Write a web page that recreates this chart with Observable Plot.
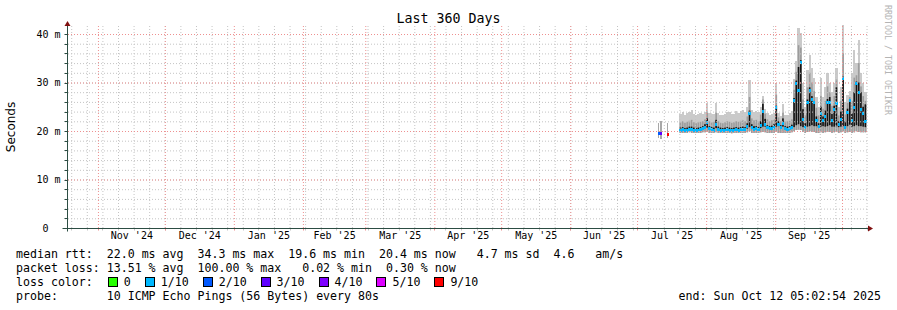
<!DOCTYPE html>
<html><head><meta charset="utf-8">
<script src="https://cdn.jsdelivr.net/npm/d3@7"></script>
<script src="https://cdn.jsdelivr.net/npm/@observablehq/plot@0.6"></script>
<style>
body{margin:0;background:#fff}
#root{position:relative;width:897px;height:310px;overflow:hidden;background:#fff}
.mono{font-family:"DejaVu Sans Mono",monospace;white-space:pre;position:absolute;color:#000}
.leg{left:16px;font-size:11.6px;line-height:14px}
.box{display:inline-block;width:8px;height:8px;border:1px solid #000;vertical-align:-1px;margin-right:6px}
</style></head><body>
<div id="root">
  <div id="chart" style="position:absolute;left:0;top:0"></div>
  <div class="mono" style="left:0;width:897px;text-align:center;top:11px;font-size:13.3px;line-height:16px">Last 360 Days</div>
  <div style="position:absolute;left:11px;top:127px;transform:translate(-50%,-50%) rotate(-90deg);font-family:'DejaVu Sans',sans-serif;font-size:12px;white-space:nowrap;color:#000">Seconds</div>
  <div class="mono" style="left:883px;top:5px;writing-mode:vertical-rl;font-size:8.3px;line-height:10px;color:#b4b4b4">RRDTOOL / TOBI OETIKER</div>
  <div class="mono leg" id="l1" style="top:247px"></div>
  <div class="mono leg" id="l2" style="top:261px"></div>
  <div class="mono leg" id="l3" style="top:275px"></div>
  <div class="mono leg" id="l4" style="top:289px"></div>
  <div class="mono" id="l5" style="right:16px;top:289px;font-size:11.6px;line-height:14px"></div>
</div>
<script>
// ---- time frame ----
const endTime = "2025-10-12T05:02:54Z";
const spanDays = 360;
const monthLabels = ["Nov '24","Dec '24","Jan '25","Feb '25","Mar '25","Apr '25","May '25","Jun '25","Jul '25","Aug '25","Sep '25"];
const yTickValues = [0, 10, 20, 30, 40];
const yTickLabels = ["0  ", "10 m", "20 m", "30 m", "40 m"];

// ---- daily smoke data, from 2025-07-20 ----
const firstDay = "2025-07-20";
const med = [20.3,20.4,20.2,20.3,20.5,20.4,20.3,20.2,20.3,20.4, 20.6,20.9,21.8,20.6,20.4,20.3,21.4,20.5,20.3,20.2, 20.3,20.4,20.3,20.2,20.3,20.4,20.3,20.4,20.5,20.4, 21.0,23.7,20.8,20.5,20.6,20.4,21.2,24.2,21.5,20.8, 20.6,20.7,20.8,25.0,21.5,20.8,21.6,20.6,20.5,20.6, 20.8,26.4,30.0,28.5,34.3,22.5,20.8,26.0,28.5,26.5, 26.0,22.3,21.0,23.7,22.3,23.0,26.0,26.0,22.3,24.5, 25.7,21.5,22.5,31.0,20.8,24.0,26.4,22.3,25.0,30.0, 28.0,24.5,23.7,22.0];
const lo = [19.6,19.6,19.6,19.6,19.7,19.6,19.6,19.6,19.6,19.6, 19.7,19.7,19.8,19.6,19.6,19.6,19.7,19.6,19.6,19.6, 19.6,19.6,19.6,19.5,19.6,19.6,19.6,19.6,19.6,19.6, 19.7,19.9,19.6,19.6,19.6,19.6,19.7,19.8,19.7,19.6, 19.6,19.6,19.6,19.8,19.6,19.6,19.6,19.6,19.6,19.6, 19.7,19.9,20.2,20.3,20.2,19.8,19.6,19.8,19.9,19.8, 19.8,19.6,19.6,19.7,19.6,19.7,19.8,19.8,19.6,19.7, 19.8,19.6,19.7,19.9,19.6,19.7,19.8,19.6,19.7,19.9, 19.8,19.7,19.7,19.7];
const coreLo = [20.0,20.1,19.9,20.0,20.2,20.1,20.0,19.9,20.0,20.1, 20.3,20.5,20.7,20.3,20.1,20.0,20.6,20.2,20.0,19.9, 20.0,20.1,20.0,19.9,20.0,20.1,20.0,20.1,20.2,20.1, 20.5,20.8,20.4,20.2,20.3,20.1,20.6,20.9,20.9,20.5, 20.3,20.4,20.5,20.9,21.0,20.5,20.9,20.3,20.2,20.3, 20.5,20.8,21.2,21.4,21.0,20.8,20.5,20.9,21.0,21.2, 21.0,21.0,20.7,20.9,21.0,20.9,21.0,21.2,20.9,20.9, 21.0,20.8,20.9,21.0,20.5,21.0,21.3,20.9,21.0,21.2, 21.0,21.0,20.9,20.8];
const core = [20.7,20.8,20.6,20.7,20.9,20.9,20.7,20.6,20.7,20.8, 21.0,21.4,22.6,21.0,20.8,20.7,22.3,20.9,20.7,20.6, 20.7,20.8,20.7,20.6,20.7,20.8,20.7,20.8,20.9,20.8, 21.6,24.2,21.4,21.0,21.0,20.8,22.0,25.6,22.5,21.2, 21.0,21.1,21.4,25.2,22.0,21.2,22.6,21.0,20.9,21.0, 21.3,26.8,30.4,33.2,34.6,24.5,21.6,26.5,29.0,27.2, 26.2,23.0,21.6,25.0,23.0,24.2,26.6,27.0,23.5,25.2, 29.0,22.0,24.0,31.2,22.0,24.6,26.6,23.6,28.0,30.2, 30.0,28.0,25.0,25.5];
const mid = [21.8,22.0,21.7,21.9,22.1,22.3,21.8,21.6,21.8,21.9, 22.0,22.4,24.0,22.0,21.8,21.9,23.8,22.0,21.7,21.6, 21.8,22.0,21.9,21.7,21.8,22.0,21.9,22.1,22.2,22.0, 23.0,27.0,22.6,22.2,22.3,22.0,23.4,26.5,23.6,22.4, 22.0,22.2,22.4,27.5,22.8,22.0,23.8,22.0,22.0,22.1, 22.4,28.5,32.2,37.7,37.2,26.5,23.2,29.0,32.0,30.0, 28.2,24.8,23.2,27.2,24.6,26.2,29.2,28.0,25.2,27.2, 30.6,23.2,26.2,36.0,23.4,25.8,27.0,26.2,31.0,31.5, 34.0,29.2,27.2,26.2];
const hi = [23.6,23.9,23.4,23.8,24.0,24.4,23.6,23.3,23.5,23.7, 23.6,24.0,25.8,23.8,23.5,23.6,25.8,23.7,23.4,23.3, 23.6,24.0,23.9,23.5,23.6,24.1,23.8,24.2,24.3,24.0, 25.0,30.5,24.4,24.0,24.2,23.9,25.0,27.2,24.6,23.8, 23.4,23.6,23.8,29.8,23.8,23.0,25.6,23.3,23.4,23.8, 24.2,30.8,34.5,41.2,40.2,30.0,25.0,32.6,35.7,33.0, 31.0,27.0,25.0,31.0,27.0,29.0,32.0,30.0,28.0,30.0, 33.0,25.0,29.0,41.9,26.0,27.4,28.2,32.0,36.7,34.0, 38.8,32.0,30.0,28.0];
const loss = [1,1,1,1,1,1,1,1,1,1, 1,1,1,1,1,1,1,1,1,1, 1,1,1,1,1,1,1,1,1,1, 1,1,1,1,1,1,1,1,1,1, 1,1,1,1,1,1,1,1,1,1, 1,1,1,1,1,1,1,1,1,1, 1,1,1,1,1,1,1,1,1,1, 1,1,1,1,1,1,1,1,1,1, 1,1,1,1];

// ---- isolated early samples ----
const isoTime = ["2025-07-10T12:00Z","2025-07-11T12:00Z","2025-07-14T12:00Z"];
const isoMed = [19.5, 19.5, 19.4];
const isoLo = [18.5, 18.4, 18.6];
const isoHi = [21.6, 22.0, 21.6];
const isoLoss = [2, 3, 9];

// ---- legend ----
const lossKeys = [0, 1, 2, 3, 4, 5, 9];
const lossLabels = ["0", "1/10", "2/10", "3/10", "4/10", "5/10", "9/10"];
const lossColors = ["#26ff00", "#00b8ff", "#0059ff", "#5e00ff", "#7e00ff", "#dd00ff", "#ff0000"];
const legendRtt = "median rtt:  22.0 ms avg  34.3 ms max  19.6 ms min  20.4 ms now   4.7 ms sd  4.6   am/s";
const legendLoss = "packet loss: 13.51 % avg  100.00 % max   0.02 % min  0.30 % now";
const legendProbe = "probe:       10 ICMP Echo Pings (56 Bytes) every 80s";
const legendEnd = "end: Sun Oct 12 05:02:54 2025";

const colorOf = k => lossColors[lossKeys.indexOf(k)];

const tEnd = new Date(endTime);
const tStart = d3.utcDay.offset(tEnd, -spanDays);
const day0 = new Date(firstDay + "T00:00Z");
const days = d3.utcDay.range(day0, d3.utcDay.offset(day0, med.length));
const rows = days.map((d, i) => ({t0: d, t1: d3.utcDay.offset(d, 1), med: med[i], lo: lo[i], coreLo: coreLo[i], core: core[i], mid: mid[i], hi: hi[i], c: colorOf(loss[i])}));
const iso = isoTime.map((s, i) => { const t = new Date(s); return {t0: t, t1: d3.utcHour.offset(t, 12), m0: d3.utcHour.offset(t, -2), m1: d3.utcHour.offset(t, 16), med: isoMed[i], lo: isoLo[i], hi: isoHi[i], c: colorOf(isoLoss[i])}; });

const weeks = d3.utcSunday.range(tStart, tEnd);
const monthStarts = d3.utcMonth.range(tStart, tEnd);
const monthTicks = monthLabels.map((lab, i) => {
  const m = monthStarts[i], n = d3.utcMonth.offset(m, 1);
  return {t: new Date((+m + +n) / 2), label: lab};
});
const yMinor = d3.range(0, 41, 2);
const yMajor = yTickValues;

function axes(index, scales, values, dims) {
  const {marginTop, marginRight, width} = dims;
  const g = d3.create("svg:g");
  const ax = Math.round(scales.x(tStart)) + 2.5;
  const yb = Math.round(scales.y(0)) + 0.5;
  const xr = width - marginRight + 1;
  for (const v of yMinor) {
    const y = Math.round(scales.y(v)) + 0.5;
    g.append("line").attr("x1", ax - 3).attr("x2", ax).attr("y1", y).attr("y2", y).attr("stroke", "#2c4d43");
  }
  for (const t of weeks) {
    const x = Math.round(scales.x(t)) + 0.5;
    g.append("line").attr("x1", x).attr("x2", x).attr("y1", yb).attr("y2", yb + 2).attr("stroke", "#c4c4c4");
  }
  for (const t of monthStarts) {
    const x = Math.round(scales.x(t)) + 0.5;
    g.append("line").attr("x1", x).attr("x2", x).attr("y1", yb).attr("y2", yb + 2).attr("stroke", "#ee9090");
  }
  g.append("line").attr("x1", ax).attr("x2", ax).attr("y1", yb + 3).attr("y2", marginTop - 1).attr("stroke", "#2c4d43");
  g.append("line").attr("x1", ax - 5).attr("x2", xr).attr("y1", yb).attr("y2", yb).attr("stroke", "#2c4d43");
  g.append("path").attr("d", `M${ax - 3},${marginTop} L${ax + 3},${marginTop} L${ax},${marginTop - 5} Z`).attr("fill", "#801010");
  g.append("path").attr("d", `M${xr},${yb - 3} L${xr},${yb + 3} L${xr + 5},${yb} Z`).attr("fill", "#801010");
  return g.node();
}

const chart = Plot.plot({
  width: 897, height: 246,
  marginLeft: 65, marginRight: 30, marginTop: 26, marginBottom: 18,
  x: {type: "utc", domain: [tStart, tEnd], axis: null},
  y: {domain: [0, 41.65], axis: null},
  color: {type: "identity"},
  style: {fontFamily: '"DejaVu Sans Mono", monospace', fontSize: "10px", color: "#000", background: "transparent", whiteSpace: "pre", overflow: "visible"},
  marks: [
    Plot.rect(rows, {x1: "t0", x2: "t1", y1: "lo", y2: "hi", fill: "#cacaca", shapeRendering: "crispEdges"}),
    Plot.rect(rows, {x1: "t0", x2: "t1", y1: "lo", y2: "mid", fill: "#9c9c9c", insetLeft: 0.3, insetRight: 0.3}),
    Plot.rect(rows, {x1: "t0", x2: "t1", y1: "coreLo", y2: "core", fill: "#141414", insetLeft: 0.25, insetRight: 0.35}),
    Plot.ruleY(rows, {y: "med", x1: "t0", x2: "t1", stroke: "c", strokeWidth: 3, shapeRendering: "crispEdges"}),
    Plot.rect(iso, {x1: "t0", x2: "t1", y1: "lo", y2: "hi", fill: "#a8a8a8", shapeRendering: "crispEdges"}),
    Plot.ruleY(iso, {y: "med", x1: "m0", x2: "m1", stroke: "c", strokeWidth: 3, shapeRendering: "crispEdges"}),
    Plot.ruleX(weeks, {stroke: "#c4c4c4", strokeDasharray: "1,2"}),
    Plot.ruleY(yMinor, {stroke: "#c4c4c4", strokeDasharray: "1,2"}),
    Plot.ruleX(monthStarts, {stroke: "#ee9090", strokeDasharray: "1,2"}),
    Plot.ruleY(yMajor, {stroke: "#ee9090", strokeDasharray: "1,2"}),
    axes,
    Plot.text(yTickValues, {y: d => d, text: (d, i) => yTickLabels[i], frameAnchor: "left", textAnchor: "end", dx: -5, fill: "#000"}),
    Plot.text(monthTicks, {x: "t", text: "label", frameAnchor: "bottom", dy: 10, fill: "#000"})
  ]
});
document.getElementById("chart").appendChild(chart);

document.getElementById("l1").textContent = legendRtt;
document.getElementById("l2").textContent = legendLoss;
document.getElementById("l4").textContent = legendProbe;
document.getElementById("l5").textContent = legendEnd;
const l3 = document.getElementById("l3");
l3.append("loss color:");
lossLabels.forEach((lab, i) => {
  const b = document.createElement("span");
  b.className = "box";
  b.style.background = lossColors[i];
  b.style.marginLeft = i === 0 ? "15px" : "14px";
  l3.append(b);
  l3.append(lab);
});
</script>
</body></html>
